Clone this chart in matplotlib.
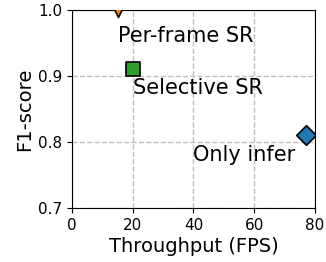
import matplotlib
matplotlib.use("Agg")
import matplotlib.pyplot as plt

# data
methods = ["Per-frame SR", "Selective SR", "Only infer"]
fps = [15, 20, 77]
f1 = [1.0, 0.91, 0.81]
colors = ["tab:orange", "tab:green", "tab:blue"]
markers = ["v", "s", "D"]
label_pos = [(15, 0.96), (20, 0.882), (40, 0.78)]

fig = plt.figure(figsize=(3.26, 2.62), dpi=100)
ax = fig.add_axes([0.221, 0.206, 0.745, 0.756])

for m, x, y, c, mk, (tx, ty) in zip(methods, fps, f1, colors, markers, label_pos):
    ax.scatter(x, y, marker=mk, s=100, color=c, edgecolors="black",
               linewidths=1.2, zorder=3)
    ax.text(tx, ty, m, fontsize=15, ha="left", va="center")

ax.set_xlim(0, 80)
ax.set_ylim(0.7, 1.0)
ax.set_xticks([0, 20, 40, 60, 80])
ax.set_yticks([0.7, 0.8, 0.9, 1.0])
ax.tick_params(labelsize=11)
ax.grid(True, linestyle="--", color="#c0c0c0", linewidth=1)
ax.set_axisbelow(True)
ax.set_xlabel("Throughput (FPS)", fontsize=14, labelpad=3)
ax.set_ylabel("F1-score", fontsize=14, labelpad=3)

fig.savefig("out.png", dpi=100)
